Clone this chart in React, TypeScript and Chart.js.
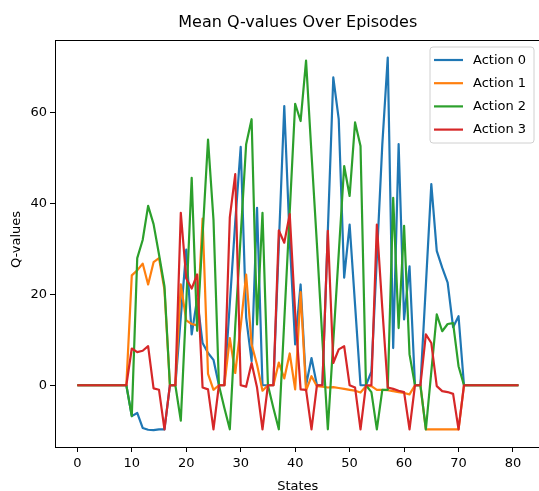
import React, { useEffect, useRef } from 'react';
import { Chart, registerables } from 'chart.js';

Chart.register(...registerables);

const TITLE = 'Mean Q-values Over Episodes';
const X_LABEL = 'States';
const Y_LABEL = 'Q-values';
const SERIES_NAMES = ['Action 0', 'Action 1', 'Action 2', 'Action 3'];
const COLORS = ['#1f77b4', '#ff7f0e', '#2ca02c', '#d62728'];

const states = [
  0, 1, 2, 3, 4, 5, 6, 7, 8, 9, 10, 11, 12, 13, 14, 15, 16, 17, 18, 19,
  20, 21, 22, 23, 24, 25, 26, 27, 28, 29, 30, 31, 32, 33, 34, 35, 36, 37, 38, 39,
  40, 41, 42, 43, 44, 45, 46, 47, 48, 49, 50, 51, 52, 53, 54, 55, 56, 57, 58, 59,
  60, 61, 62, 63, 64, 65, 66, 67, 68, 69, 70, 71, 72, 73, 74, 75, 76, 77, 78, 79,
  80, 81,
];

const action0 = [
  0, 0, 0, 0, 0, 0, 0, 0, 0, 0,
  -6.8, -6.1, -9.4, -9.8, -9.9, -9.7, -9.7, 0, 0, 15,
  29.9, 11.2, 19, 9.3, 7.1, 5.6, 0, 0, 18, 36,
  52.5, 14.9, 5.3, 39.1, 0, 0, 0, 31, 61.5, 32,
  9.0, 22.2, 0, 6.0, 0, 0, 34, 67.8, 58.6, 23.7,
  35.4, 17.7, 0, 0, 3, 28, 53, 72.2, 8.2, 53.1,
  14.5, 26.2, 0, 0, 22, 44.3, 29.6, 25.9, 22.6, 12.8,
  15.2, 0, 0, 0, 0, 0, 0, 0, 0, 0,
  0, 0,
];

const action1 = [
  0, 0, 0, 0, 0, 0, 0, 0, 0, 0,
  24.2, 25.3, 26.8, 22.2, 27.1, 28.0, 21, 0, 0, 22.2,
  14.3, 13.5, 13.2, 36.7, 2.5, -1, 0, 0, 10.4, 2.7,
  13, 24.4, 9.0, 4.5, -1.2, 0, 0, 5, 1.5, 7,
  -0.9, 20.5, -1.2, 2.0, -0.2, -0.3, -0.5, -0.4, -0.6, -0.8,
  -1.0, -1.2, -1.6, -0.2, -0.2, -1.0, -1.0, -1.1, -1.3, -1.5,
  -1.7, -2.0, 0, 0, -9.7, -9.7, -9.7, -9.7, -9.7, -9.7,
  -9.7, 0, 0, 0, 0, 0, 0, 0, 0, 0,
  0, 0,
];

const action2 = [
  0, 0, 0, 0, 0, 0, 0, 0, 0, 0,
  -6.8, 28, 32, 39.5, 35.5, 28.8, 21.8, 0, 0, -7.8,
  18, 45.7, 12, 33, 54.1, 36.5, 0, -5, -9.7, 13,
  33, 53.1, 58.6, 13.4, 38, 0, -5, -9.7, 14.2, 38.1,
  62, 58.2, 71.5, 51, 31, 10, -9.7, 9.6, 29, 48.3,
  41.7, 57.9, 52.7, 0, -1.5, -9.7, -1, -1, 41.3, 12.6,
  35.1, 6.8, 0, 0, -9.7, 3, 15.6, 11.9, 13.5, 13.7,
  4.2, 0, 0, 0, 0, 0, 0, 0, 0, 0,
  0, 0,
];

const action3 = [
  0, 0, 0, 0, 0, 0, 0, 0, 0, 0,
  8.1, 7.3, 7.6, 8.6, -0.7, -1.0, -9.7, 0, 0, 38,
  23.5, 21.3, 24.4, -0.5, -0.9, -9.7, 0, 0, 37, 46.5,
  0, -0.3, 4.9, -0.5, -9.7, 0, 0, 34.1, 31.4, 37.7,
  16, -0.9, -1.0, -9.7, 0, 0, 34, 4.9, 7.9, 8.6,
  0, -0.5, -9.7, 0, 0, 35.4, 17, -0.5, -0.8, -1.2,
  -1.5, -9.7, 0, 0, 11.2, 9.3, -0.2, -1.3, -1.5, -1.9,
  -9.7, 0, 0, 0, 0, 0, 0, 0, 0, 0,
  0, 0,
];

const xTicks = [0, 10, 20, 30, 40, 50, 60, 70, 80];
const yTicks = [0, 20, 40, 60];

const FONT = "'DejaVu Sans', sans-serif";

const decorPlugin = {
  id: 'decor',
  afterDraw(chart: any) {
    const { ctx, chartArea } = chart;
    const { left, right, top, bottom } = chartArea;
    ctx.save();
    // spines
    ctx.strokeStyle = '#000';
    ctx.lineWidth = 1;
    ctx.strokeRect(Math.round(left) + 0.5, Math.round(top) + 0.5, Math.round(right - left), Math.round(bottom - top));
    // title
    ctx.fillStyle = '#000';
    ctx.textAlign = 'center';
    ctx.textBaseline = 'middle';
    ctx.font = `16px ${FONT}`;
    const cx = (left + right) / 2;
    ctx.fillText(TITLE, cx, 23);
    // x label
    ctx.font = `13px ${FONT}`;
    ctx.fillText(X_LABEL, cx, 487);
    // y label
    ctx.save();
    ctx.translate(17, (top + bottom) / 2 - 4);
    ctx.rotate(-Math.PI / 2);
    ctx.fillText(Y_LABEL, 0, 0);
    ctx.restore();
    // legend
    const bx = 430, by = 47, bw = 104, bh = 96, r = 3;
    ctx.beginPath();
    ctx.moveTo(bx + r, by);
    ctx.lineTo(bx + bw - r, by);
    ctx.arcTo(bx + bw, by, bx + bw, by + r, r);
    ctx.lineTo(bx + bw, by + bh - r);
    ctx.arcTo(bx + bw, by + bh, bx + bw - r, by + bh, r);
    ctx.lineTo(bx + r, by + bh);
    ctx.arcTo(bx, by + bh, bx, by + bh - r, r);
    ctx.lineTo(bx, by + r);
    ctx.arcTo(bx, by, bx + r, by, r);
    ctx.closePath();
    ctx.fillStyle = 'rgba(255,255,255,0.8)';
    ctx.fill();
    ctx.strokeStyle = '#d0d0d0';
    ctx.lineWidth = 1;
    ctx.stroke();
    ctx.textAlign = 'left';
    ctx.font = `13px ${FONT}`;
    SERIES_NAMES.forEach((name, i) => {
      const y = 60 + i * 23.2;
      ctx.strokeStyle = COLORS[i];
      ctx.lineWidth = 2.2;
      ctx.beginPath();
      ctx.moveTo(434, y);
      ctx.lineTo(463, y);
      ctx.stroke();
      ctx.fillStyle = '#000';
      ctx.fillText(name, 473, y + 0.5);
    });
    ctx.restore();
  },
};

export default function App() {
  const ref = useRef<HTMLCanvasElement | null>(null);

  useEffect(() => {
    const canvas = ref.current;
    if (!canvas) return;
    const seriesValues = [action0, action1, action2, action3];
    const chart = new Chart(canvas, {
      type: 'line',
      data: {
        datasets: seriesValues.map((vals, i) => ({
          label: SERIES_NAMES[i],
          data: vals.map((v, k) => ({ x: states[k], y: v })),
          borderColor: COLORS[i],
          backgroundColor: COLORS[i],
          borderWidth: 2.2,
          pointRadius: 0,
          tension: 0,
          fill: false,
          borderJoinStyle: 'round',
          borderCapStyle: 'butt',
          order: 3 - i,
        })),
      },
      options: {
        animation: false,
        responsive: false,
        events: [],
        layout: { padding: { left: 0, top: 40, right: 19.5, bottom: 0 } },
        plugins: {
          legend: { display: false },
          title: { display: false },
          tooltip: { enabled: false },
        },
        scales: {
          x: {
            type: 'linear',
            min: -4.1,
            max: 85.05,
            afterFit: (s: any) => { s.height = 44; },
            afterBuildTicks: (s: any) => { s.ticks = xTicks.map((v) => ({ value: v })); },
            grid: { drawOnChartArea: false, drawTicks: true, tickLength: 5, color: '#000' },
            border: { display: true, color: '#000', width: 1 },
            ticks: { font: { family: FONT, size: 13 }, color: '#000', padding: 4, maxRotation: 0, autoSkip: false },
          },
          y: {
            type: 'linear',
            min: -13.6,
            max: 76.05,
            afterFit: (s: any) => { s.width = 55; },
            afterBuildTicks: (s: any) => { s.ticks = yTicks.map((v) => ({ value: v })); },
            grid: { drawOnChartArea: false, drawTicks: true, tickLength: 5, color: '#000' },
            border: { display: true, color: '#000', width: 1 },
            ticks: { font: { family: FONT, size: 13 }, color: '#000', padding: 3, autoSkip: false },
          },
        },
      },
      plugins: [decorPlugin],
    } as any);
    return () => chart.destroy();
  }, []);

  return (
    <div style={{ position: 'absolute', left: 0, top: 0, width: 539, height: 491, overflow: 'hidden', background: '#fff' }}>
      <canvas ref={ref} width={560} height={491} style={{ width: 560, height: 491, display: 'block' }} />
    </div>
  );
}
